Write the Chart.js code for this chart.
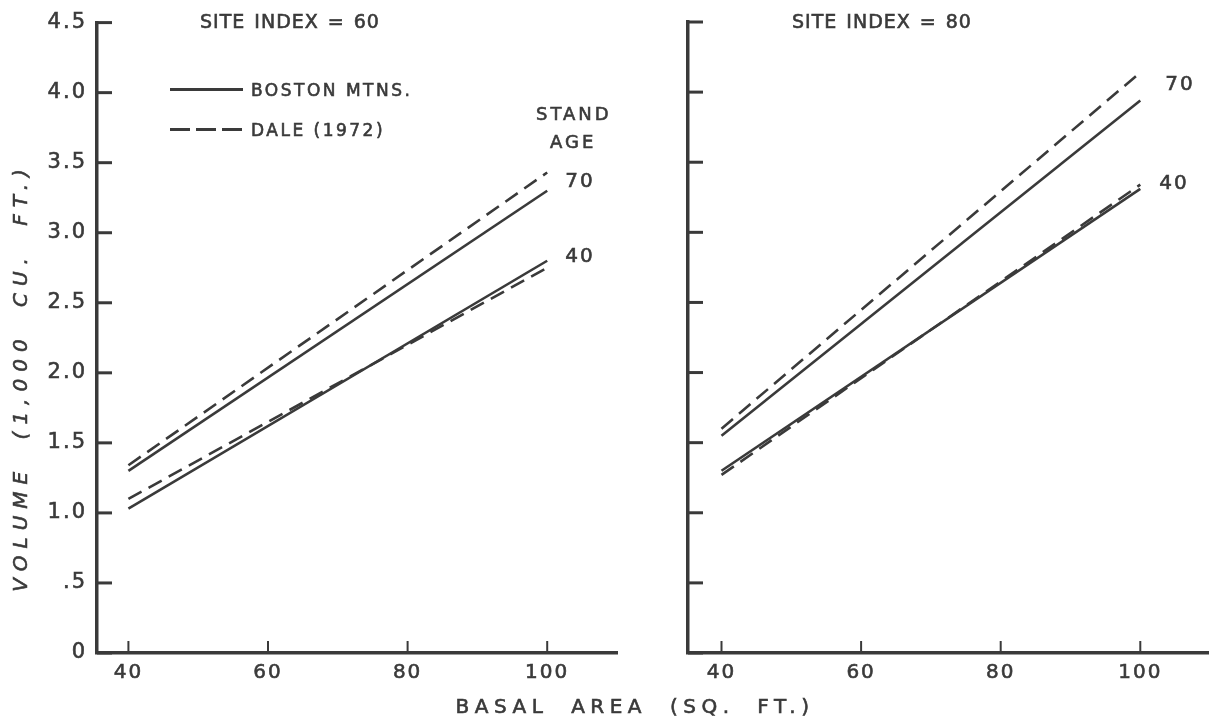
<!DOCTYPE html>
<html>
  <head>
    <meta charset="utf-8">
    <title>Volume vs basal area</title>
    <script src="https://cdn.jsdelivr.net/npm/chart.js@4.4.1/dist/chart.umd.min.js"></script>
    <style>
      body { margin: 0; background: #fff; color: #3a3a3a; font-family: "DejaVu Sans", sans-serif; }
      #wrap { position: relative; width: 1210px; height: 722px; overflow: hidden; }
      canvas { position: absolute; top: 0; }
      .txt { position: absolute; white-space: pre; color: #3a3a3a; line-height: 1; -webkit-text-stroke: 0.6px #3a3a3a; }
      .title { font-size: 19px; letter-spacing: 1px; word-spacing: 2px; }
      .leg { font-size: 17px; letter-spacing: 2.5px; }
      .leg-line { position: absolute; height: 3px; width: 73px; }
      .solid { background: #3a3a3a; }
      .dash { background: repeating-linear-gradient(90deg, #3a3a3a 0 20px, transparent 20px 26px); }
    </style>
  </head>
  <body>
    <div id="wrap">
      <canvas id="si60" width="640" height="722" style="left:0"></canvas>
      <canvas id="si80" width="610" height="722" style="left:600px"></canvas>

      <div class="txt title" style="left:200px; top:12px;">SITE INDEX = 60</div>
      <div class="txt title" style="left:792px; top:12px;">SITE INDEX = 80</div>

      <div class="leg-line solid" style="left:170px; top:88px;"></div>
      <div class="txt leg" style="left:251px; top:82px;">BOSTON MTNS.</div>
      <div class="leg-line dash" style="left:170px; top:128px;"></div>
      <div class="txt leg" style="left:251px; top:122px;">DALE (1972)</div>

      <div class="txt leg" style="left:536px; top:105px; letter-spacing:3px; font-size:18px;">STAND</div>
      <div class="txt leg" style="left:550px; top:133px; letter-spacing:3px; font-size:18px;">AGE</div>

      <div class="txt" style="left:-200px; top:367px; width:440px; text-align:center; font-size:20px; font-style:italic; letter-spacing:7px; word-spacing:12px; transform:rotate(-90deg);">VOLUME (1,000 CU. FT.)</div>
      <div class="txt" style="left:425px; top:696px; width:420px; text-align:center; font-size:20px; letter-spacing:5.5px; word-spacing:11px;">BASAL AREA (SQ. FT.)</div>
    </div>

    <script>
      const INK = '#3a3a3a';

      // basal area (sq. ft.) at the ends of each curve
      const basalArea = [40, 100];

      // site index 60, volume in 1,000 cu. ft.
      const si60Boston70 = [1.30, 3.30];
      const si60Dale70   = [1.34, 3.43];
      const si60Boston40 = [1.03, 2.80];
      const si60Dale40   = [1.10, 2.75];

      // site index 80
      const si80Boston70 = [1.55, 3.94];
      const si80Dale70   = [1.60, 4.14];
      const si80Boston40 = [1.30, 3.31];
      const si80Dale40   = [1.27, 3.34];

      const xTicks = [40, 60, 80, 100];
      const yTicks = [0, 0.5, 1, 1.5, 2, 2.5, 3, 3.5, 4, 4.5];
      const yTickLabels = ['0', '.5', '1.0', '1.5', '2.0', '2.5', '3.0', '3.5', '4.0', '4.5'];

      const pts = (vals) => vals.map((v, i) => ({ x: basalArea[i], y: v }));

      function series(label, vals, dashed) {
        return {
          label: label,
          data: pts(vals),
          borderColor: INK,
          borderWidth: 2.6,
          borderDash: dashed ? [15, 8] : [],
          pointRadius: 0,
          tension: 0,
          fill: false
        };
      }

      // wider lettering for the axis numbers
      const spacing = {
        id: 'spacing',
        beforeDraw(chart) { chart.ctx.letterSpacing = '2px'; }
      };

      // short inward tick marks plus the stand-age labels at the right end of the curves
      const inkMarks = {
        id: 'inkMarks',
        afterDatasetsDraw(chart, args, opts) {
          const { ctx, chartArea, scales: { x, y } } = chart;
          ctx.save();
          ctx.strokeStyle = INK;
          ctx.lineWidth = 3;
          y.ticks.forEach(t => {
            const py = y.getPixelForValue(t.value);
            ctx.beginPath();
            ctx.moveTo(chartArea.left, py);
            ctx.lineTo(chartArea.left + 15, py);
            ctx.stroke();
          });
          ctx.lineWidth = 2;
          x.ticks.forEach(t => {
            const px = x.getPixelForValue(t.value);
            ctx.beginPath();
            ctx.moveTo(px, chartArea.bottom);
            ctx.lineTo(px, chartArea.bottom - 12);
            ctx.stroke();
          });

          ctx.fillStyle = INK;
          ctx.lineWidth = 0.6;
          ctx.font = '20px "DejaVu Sans"';
          ctx.letterSpacing = '2px';
          ctx.textAlign = 'left';
          ctx.textBaseline = 'middle';
          (opts.labels || []).forEach(l => {
            const ends = l.sets.map(i => {
              const d = chart.data.datasets[i].data;
              return d[d.length - 1];
            });
            const vx = ends[0].x;
            const vy = ends.reduce((s, p) => s + p.y, 0) / ends.length;
            const px = x.getPixelForValue(vx) + l.dx;
            const py = y.getPixelForValue(vy) + l.dy;
            ctx.fillText(l.text, px, py);
            ctx.strokeText(l.text, px, py);
          });
          ctx.restore();
        }
      };

      function makeChart(id, sets, opt) {
        return new Chart(document.getElementById(id), {
          type: 'line',
          data: { datasets: sets },
          plugins: [spacing, inkMarks],
          options: {
            responsive: false,
            animation: false,
            layout: { padding: { top: 22, right: opt.padRight, left: 0, bottom: 0 } },
            plugins: {
              legend: { display: false },
              tooltip: { enabled: false },
              inkMarks: { labels: opt.labels }
            },
            scales: {
              x: {
                type: 'linear',
                min: opt.xMin,
                max: opt.xMax,
                afterBuildTicks: s => { s.ticks = xTicks.map(v => ({ value: v })); },
                afterFit: s => { s.height = 69; },
                grid: { display: false, drawTicks: false },
                border: { display: true, width: 3.5, color: INK },
                ticks: {
                  padding: 8,
                  color: INK,
                  textStrokeColor: INK,
                  textStrokeWidth: 0.6,
                  font: { family: 'DejaVu Sans', size: 20 },
                  maxRotation: 0
                }
              },
              y: {
                type: 'linear',
                min: 0,
                max: 4.5,
                afterBuildTicks: s => { s.ticks = yTicks.map(v => ({ value: v })); },
                afterFit: s => { s.width = opt.yWidth; },
                grid: { display: false, drawTicks: false },
                border: { display: true, width: 3.5, color: INK },
                ticks: {
                  display: opt.yLabels,
                  padding: 10,
                  color: INK,
                  textStrokeColor: INK,
                  textStrokeWidth: 0.6,
                  font: { family: 'DejaVu Sans', size: 21 },
                  callback: v => yTickLabels[yTicks.indexOf(v)]
                }
              }
            }
          }
        });
      }

      makeChart('si60', [
        series('Boston Mtns., age 70', si60Boston70, false),
        series('Dale (1972), age 70', si60Dale70, true),
        series('Boston Mtns., age 40', si60Boston40, false),
        series('Dale (1972), age 40', si60Dale40, true)
      ], {
        xMin: 35.5, xMax: 110, padRight: 23, yWidth: 97, yLabels: true,
        labels: [
          { text: '70', sets: [0, 1], dx: 18, dy: 0 },
          { text: '40', sets: [2, 3], dx: 18, dy: -7 }
        ]
      });

      makeChart('si80', [
        series('Boston Mtns., age 70', si80Boston70, false),
        series('Dale (1972), age 70', si80Dale70, true),
        series('Boston Mtns., age 40', si80Boston40, false),
        series('Dale (1972), age 40', si80Dale40, true)
      ], {
        xMin: 35.2, xMax: 109.7, padRight: 2, yWidth: 88, yLabels: false,
        labels: [
          { text: '70', sets: [0, 1], dx: 25, dy: -2 },
          { text: '40', sets: [2, 3], dx: 19, dy: -3 }
        ]
      });
    </script>
  </body>
</html>
